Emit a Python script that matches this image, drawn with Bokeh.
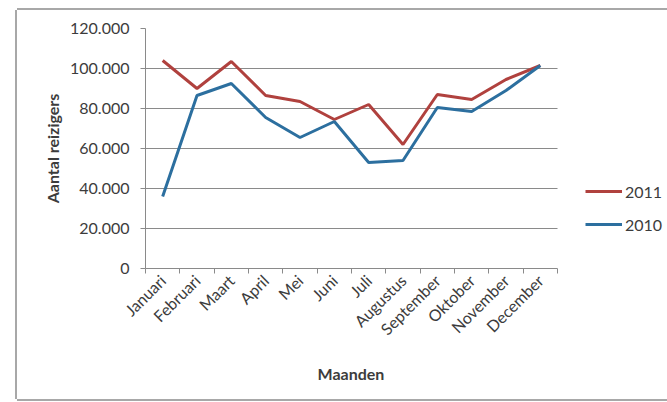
import math
import numpy as np
from bokeh.plotting import figure
from bokeh.models import FixedTicker, Legend, LegendItem, Range1d, Title
from bokeh.embed import file_html
from bokeh.resources import INLINE

# ---- data ----
months = ["Januari", "Februari", "Maart", "April", "Mei", "Juni", "Juli",
          "Augustus", "September", "Oktober", "November", "December"]
reizigers_2011 = [104000, 90000, 103500, 86500, 83500, 74500, 82000,
                  62000, 87000, 84500, 94500, 101500]
reizigers_2010 = [36000, 86500, 92500, 75500, 65500, 73500, 53000,
                  54000, 80500, 78500, 89000, 101500]
y_ticks = [0, 20000, 40000, 60000, 80000, 100000, 120000]
y_tick_labels = ["0", "20.000", "40.000", "60.000", "80.000", "100.000", "120.000"]
series_names = ["2011", "2010"]
x_title = "Maanden"
y_title = "Aantal reizigers"

# ---- style / layout ----
FONT = "Lato"
TEXT = "#3c3c3c"
GRID = "#8a8a8a"
RED = "#B0413E"
BLUE = "#2C6F9F"
FIG_W, FIG_H = 650, 389
BORDER_L, BORDER_T, BORDER_B = 128, 18, 131
PLOT_W = 412  # width the months occupy; the frame continues to the right for the legend
n = len(months)
x_max = n * (FIG_W - BORDER_L) / PLOT_W

x = np.arange(n) + 0.5

p = figure(width=FIG_W, height=FIG_H,
           x_range=Range1d(0, x_max), y_range=Range1d(0, 120000),
           output_backend="svg", toolbar_location=None,
           min_border_left=BORDER_L, min_border_right=0,
           min_border_top=BORDER_T, min_border_bottom=BORDER_B)
p.margin = (10, 0, 0, 17)
p.styles = {"box-shadow": "-2px 0 0 0 #a8a8a8, 0 -2px 0 0 #a8a8a8, 0 2px 0 0 #a8a8a8"}
p.outline_line_color = None
p.background_fill_color = "white"
p.border_fill_color = "white"

# grid
p.xgrid.grid_line_color = None
p.ygrid.ticker = FixedTicker(ticks=y_ticks)
p.ygrid.grid_line_color = GRID
p.ygrid.grid_line_width = 1.2
try:
    p.ygrid.cross_bounds = (0, n)
except Exception:
    pass

# y axis
ya = p.yaxis[0]
ya.ticker = FixedTicker(ticks=y_ticks)
ya.major_label_overrides = {t: l for t, l in zip(y_ticks, y_tick_labels)}
ya.major_tick_out = 5
ya.major_tick_in = 0
ya.minor_tick_out = 0
ya.minor_tick_in = 0
ya.axis_line_color = GRID
ya.major_tick_line_color = GRID
ya.major_label_text_font = FONT
ya.major_label_text_font_size = "16px"
ya.major_label_text_color = TEXT
ya.major_label_standoff = 11
ya.axis_label = y_title
ya.axis_label_text_font = FONT
ya.axis_label_text_font_style = "bold"
ya.axis_label_text_font_size = "16px"
ya.axis_label_text_color = TEXT
ya.axis_label_standoff = 5

# x axis
xa = p.xaxis[0]
xa.bounds = (0, n)
xa.ticker = FixedTicker(ticks=list(x), minor_ticks=list(range(n + 1)))
xa.major_label_overrides = {float(c): m for c, m in zip(x, months)}
xa.major_tick_out = 0
xa.major_tick_in = 0
xa.minor_tick_out = 5
xa.minor_tick_in = 0
xa.minor_tick_line_color = GRID
xa.axis_line_color = GRID
xa.major_label_orientation = math.pi / 4
xa.major_label_text_font = FONT
xa.major_label_text_font_size = "16px"
xa.major_label_text_color = TEXT
xa.major_label_standoff = 4

# x axis title, centred under the month part of the axis
xt = Title(text=x_title, align="left", offset=172, standoff=26,
           text_font=FONT, text_font_style="bold", text_font_size="16px",
           text_color=TEXT)
p.add_layout(xt, "below")

r11 = p.line(x, reizigers_2011, line_color=RED, line_width=3)
r10 = p.line(x, reizigers_2010, line_color=BLUE, line_width=3)

legend = Legend(items=[LegendItem(label=series_names[0], renderers=[r11]),
                       LegendItem(label=series_names[1], renderers=[r10])],
                location=(440, 34), orientation="vertical")
legend.border_line_color = None
legend.background_fill_alpha = 0
legend.padding = 0
legend.margin = 0
legend.spacing = 13
legend.glyph_width = 37
legend.glyph_height = 20
legend.label_height = 20
legend.label_standoff = 3
legend.label_text_font = FONT
legend.label_text_font_size = "16px"
legend.label_text_color = TEXT
p.add_layout(legend, "center")

open("out.html", "w").write(file_html(p, INLINE))
